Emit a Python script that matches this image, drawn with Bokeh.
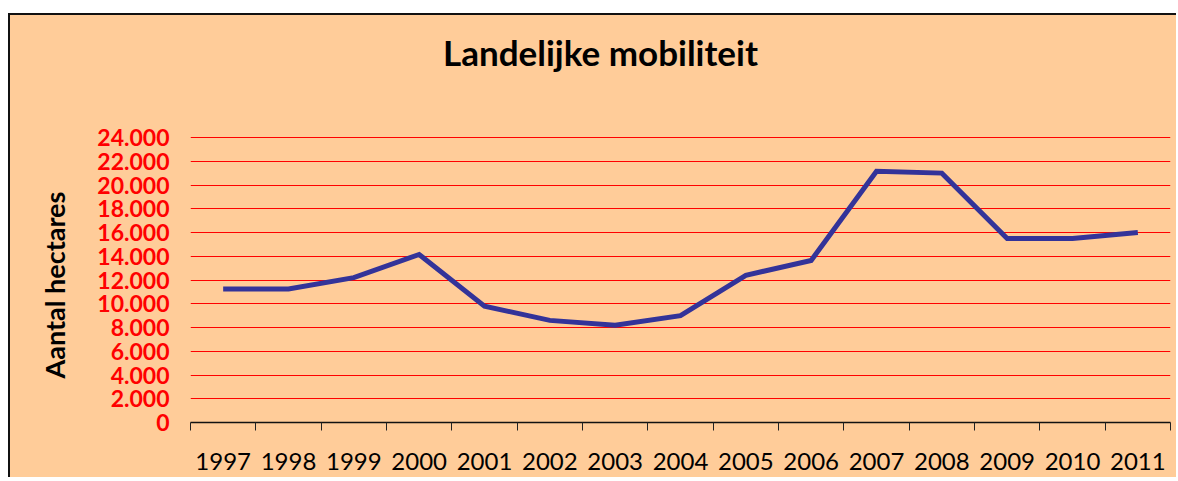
from bokeh.plotting import figure
from bokeh.models import FixedTicker, Label, Range1d, Title
from bokeh.embed import file_html
from bokeh.resources import INLINE

years = ["1997", "1998", "1999", "2000", "2001", "2002", "2003", "2004",
         "2005", "2006", "2007", "2008", "2009", "2010", "2011"]
hectares = [11250, 11250, 12200, 14150, 9800, 8600, 8200, 9000,
            12400, 13650, 21150, 21000, 15500, 15500, 16000]
y_ticks = [0, 2000, 4000, 6000, 8000, 10000, 12000, 14000, 16000,
           18000, 20000, 22000, 24000]
y_tick_labels = ["0", "2.000", "4.000", "6.000", "8.000", "10.000", "12.000",
                 "14.000", "16.000", "18.000", "20.000", "22.000", "24.000"]
chart_title = "Landelijke mobiliteit"
y_title = "Aantal hectares"

BG = "#FFCC99"
FONT = "Lato"

n = len(years)
centers = [i + 0.5 for i in range(n)]

# layout geometry (page pixels)
CANVAS_TOP = 15               # 13px margin + 2px border
W, H = 1168, 464
FRAME_LEFT, FRAME_RIGHT, ZERO_Y, TOP_TICK_Y = 190, 1170, 422, 137
AXIS_PX = ZERO_Y - TOP_TICK_Y
y_top = y_ticks[-1] * (ZERO_Y - CANVAS_TOP) / AXIS_PX

p = figure(width=W, height=H, output_backend="svg", toolbar_location=None,
           x_range=Range1d(0, n), y_range=Range1d(0, y_top),
           min_border_left=FRAME_LEFT - 10, min_border_right=W - (FRAME_RIGHT - 10),
           min_border_top=0, min_border_bottom=CANVAS_TOP + H - ZERO_Y)
p.background_fill_color = None
p.border_fill_color = None
p.outline_line_color = None
p.styles = {"margin-left": "8px", "margin-top": "13px",
            "background-color": BG,
            "border-left": "2px solid #111", "border-top": "2px solid #111"}

p.line(centers, hectares, line_color="#333399", line_width=5, line_join="miter")

# x axis: ticks at category boundaries (minor), labels at centers (major)
xa = p.xaxis[0]
xa.ticker = FixedTicker(ticks=centers, minor_ticks=list(range(n + 1)))
xa.major_label_overrides = {c: y for c, y in zip(centers, years)}
xa.major_tick_line_color = None
xa.major_tick_out = 0
xa.major_tick_in = 0
xa.minor_tick_line_color = "#222222"
xa.minor_tick_out = 8
xa.minor_tick_in = 0
xa.axis_line_color = "#111111"
xa.axis_line_width = 1.5
xa.major_label_standoff = 22
xa.major_label_text_font = FONT
xa.major_label_text_font_size = "24px"
xa.major_label_text_color = "#000000"

ya = p.yaxis[0]
ya.ticker = FixedTicker(ticks=y_ticks, minor_ticks=[])
ya.major_label_overrides = {t: l for t, l in zip(y_ticks, y_tick_labels)}
ya.axis_line_color = None
ya.major_tick_line_color = None
ya.minor_tick_line_color = None
ya.major_tick_out = 0
ya.major_label_standoff = 21
ya.major_label_text_font = FONT
ya.major_label_text_font_size = "23px"
ya.major_label_text_font_style = "bold"
ya.major_label_text_color = "#FF0000"

ytitle = Title(text=y_title, align="left", offset=ZERO_Y - 378,
               vertical_align="middle", standoff=46, text_font=FONT,
               text_font_size="27px", text_font_style="bold",
               text_color="#000000")
p.add_layout(ytitle, "left")

p.xgrid.grid_line_color = None
p.ygrid.ticker = FixedTicker(ticks=y_ticks[1:])
p.ygrid.grid_line_color = "#FF0000"
p.ygrid.grid_line_width = 1

# chart title placed in the empty upper part of the frame
title_x = (600 - FRAME_LEFT) / (FRAME_RIGHT - FRAME_LEFT) * n
title_y = (ZERO_Y - 51) / AXIS_PX * y_ticks[-1]
title = Label(x=title_x, y=title_y, text=chart_title, text_align="center",
              text_baseline="middle", text_font=FONT, text_font_size="35px",
              text_font_style="bold", text_color="#000000")
p.add_layout(title)

open("out.html", "w").write(file_html(p, INLINE))
